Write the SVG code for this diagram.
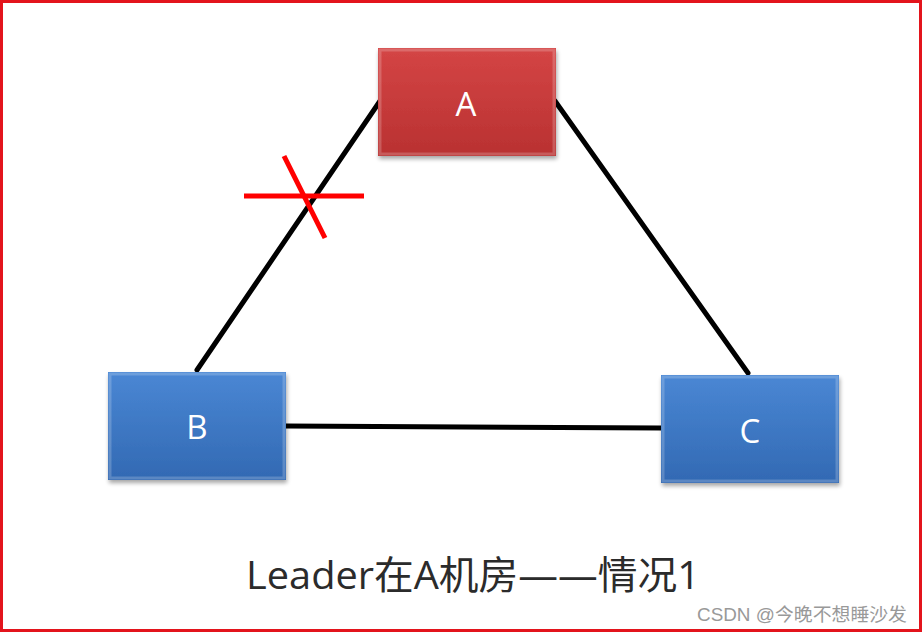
<svg xmlns="http://www.w3.org/2000/svg" width="924" height="633" viewBox="0 0 924 633">
<defs>
<linearGradient id="gRed" x1="0" y1="0" x2="0" y2="1">
<stop offset="0" stop-color="#d44545"/>
<stop offset="1" stop-color="#b93131"/>
</linearGradient>
<linearGradient id="gBlue" x1="0" y1="0" x2="0" y2="1">
<stop offset="0" stop-color="#4a87d4"/>
<stop offset="1" stop-color="#3269b3"/>
</linearGradient>
<filter id="sh" x="-10%" y="-10%" width="125%" height="130%">
<feGaussianBlur in="SourceAlpha" stdDeviation="2"/>
<feOffset dx="1" dy="3" result="o"/>
<feComponentTransfer><feFuncA type="linear" slope="0.35"/></feComponentTransfer>
<feMerge><feMergeNode/><feMergeNode in="SourceGraphic"/></feMerge>
</filter>
</defs>
<style>
.edge{stroke:#000;stroke-width:5;fill:none;stroke-linecap:round}
.cross{stroke:#ff0000;stroke-width:5;fill:none}
.lbl{font-family:"Open Sans","Noto Sans","Liberation Sans",sans-serif;font-size:33px;fill:#fff;text-anchor:middle}
.bevel{fill:none;stroke:#fff;stroke-opacity:0.2;stroke-width:3}
</style>
<rect x="0" y="0" width="924" height="633" fill="#fff"/>
<g id="connectors">
<line class="edge" x1="380" y1="101" x2="197" y2="370"/>
<line class="edge" x1="555" y1="101" x2="748" y2="373"/>
<line class="edge" x1="286" y1="426" x2="661" y2="428"/>
</g>
<g id="cross">
<line class="cross" x1="244" y1="196" x2="364" y2="196"/>
<line class="cross" x1="284" y1="156" x2="325" y2="238"/>
</g>
<g id="node-A">
<rect x="378" y="48" width="178" height="108" fill="url(#gRed)" filter="url(#sh)"/>
<rect class="bevel" x="380" y="50" width="174" height="104"/>
<text class="lbl" x="466" y="116">A</text>
</g>
<g id="node-B">
<rect x="108" y="372" width="178" height="108" fill="url(#gBlue)" filter="url(#sh)"/>
<rect class="bevel" x="110" y="374" width="174" height="104"/>
<text class="lbl" x="197" y="439">B</text>
</g>
<g id="node-C">
<rect x="661" y="375" width="178" height="108" fill="url(#gBlue)" filter="url(#sh)"/>
<rect class="bevel" x="663" y="377" width="174" height="104"/>
<text class="lbl" x="750" y="443">C</text>
</g>
<text x="246" y="589" font-family="'Open Sans','Noto Sans','Noto Sans CJK SC',sans-serif" font-size="39" fill="#2b2b2b" textLength="454" lengthAdjust="spacingAndGlyphs">Leader在A机房——情况1</text>
<text x="697" y="621" font-family="'Liberation Sans','Noto Sans CJK SC',sans-serif" font-size="18.5" fill="#999" textLength="210" lengthAdjust="spacingAndGlyphs">CSDN @今晚不想睡沙发</text>
<rect x="1.5" y="1.5" width="919" height="629" fill="none" stroke="#e3141c" stroke-width="3"/>
</svg>
